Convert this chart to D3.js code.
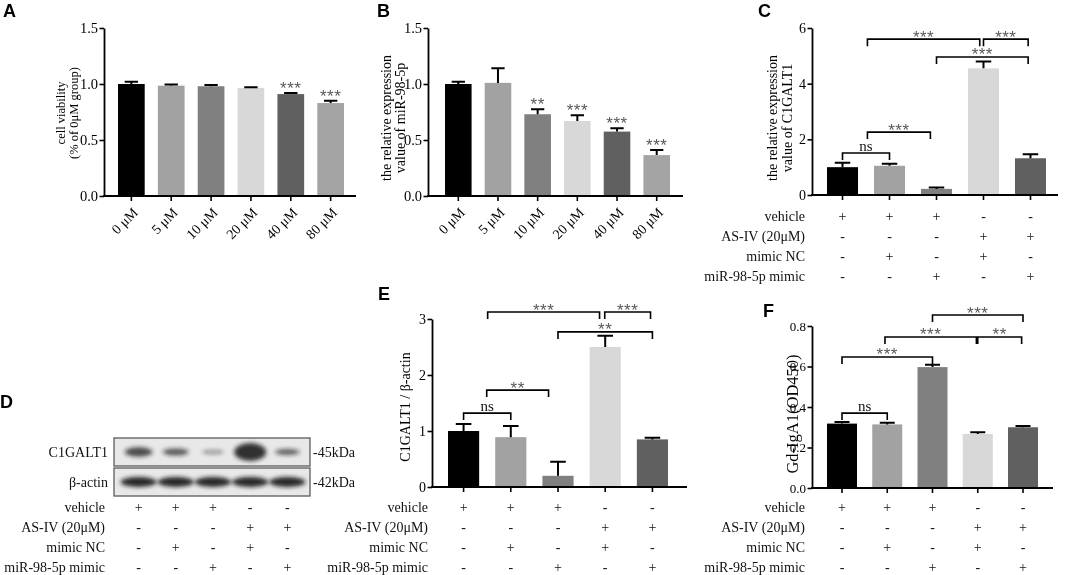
<!DOCTYPE html>
<html><head><meta charset="utf-8">
<script src="https://cdn.jsdelivr.net/npm/d3@7"></script>
<style>
body{margin:0;background:#fff}
svg{display:block;will-change:transform;-webkit-font-smoothing:antialiased}
svg text{font-family:"Liberation Serif","Times New Roman",Times,serif}
svg text.lbl{font-family:"Liberation Sans",Arial,Helvetica,sans-serif;font-weight:bold}
svg text.star{font-family:"Liberation Sans",Arial,Helvetica,sans-serif;letter-spacing:0.5px}
</style></head><body>
<svg id="fig" width="1065" height="575"></svg>
<script>
// ---------------- data ----------------
const doseLabels = ["0 μM","5 μM","10 μM","20 μM","40 μM","80 μM"];
const viabilityMean = [1.00, 0.985, 0.98, 0.965, 0.91, 0.83];
const viabilitySEM  = [0.02, 0.01, 0.01, 0.006, 0.01, 0.02];
const viabilitySig  = ["","","","","***","***"];

const mirMean = [1.00, 1.01, 0.73, 0.67, 0.575, 0.365];
const mirSEM  = [0.02, 0.13, 0.045, 0.05, 0.03, 0.045];
const mirSig  = ["","","**","***","***","***"];

const groupRowLabels = ["vehicle","AS-IV (20μM)","mimic NC","miR-98-5p mimic"];
const groupDesign = [
  ["+","+","+","-","-"],
  ["-","-","-","+","+"],
  ["-","+","-","+","-"],
  ["-","-","+","-","+"]
];

const c1mrnaMean = [1.00, 1.05, 0.22, 4.55, 1.32];
const c1mrnaSEM  = [0.16, 0.07, 0.05, 0.25, 0.14];
const c1mrnaComparisons = [
  {pair:[0,1], level:1.51, label:"ns"},
  {pair:[1,2], level:2.26, label:"***"},
  {pair:[1,3], level:5.60, label:"***"},
  {pair:[3,4], level:5.60, label:"***"},
  {pair:[2,4], level:4.96, label:"***"}
];

const c1protMean = [1.00, 0.89, 0.20, 2.50, 0.85];
const c1protSEM  = [0.125, 0.20, 0.25, 0.20, 0.03];
const c1protComparisons = [
  {pair:[0,1], level:1.32, label:"ns"},
  {pair:[1,2], level:1.73, label:"**"},
  {pair:[1,3], level:3.125, label:"***"},
  {pair:[3,4], level:3.125, label:"***"},
  {pair:[2,4], level:2.77, label:"**"}
];

const gdIgaMean = [0.318, 0.314, 0.597, 0.267, 0.300];
const gdIgaSEM  = [0.008, 0.008, 0.012, 0.008, 0.006];
const gdIgaComparisons = [
  {pair:[0,1], level:0.37, label:"ns"},
  {pair:[0,2], level:0.647, label:"***"},
  {pair:[1,3], level:0.746, label:"***"},
  {pair:[3,4], level:0.746, label:"**"},
  {pair:[2,4], level:0.854, label:"***"}
];

const blotRows = ["C1GALT1","β-actin"];
const blotMarkers = ["-45kDa","-42kDa"];
const blotC1GALT1 = [0.80, 0.70, 0.35, 1.00, 0.65];
const blotActin   = [1.00, 1.00, 1.00, 1.00, 1.00];

// ---------------- styles ----------------
const dosePalette = ["#000000","#a2a2a2","#808080","#d8d8d8","#606060","#a4a4a4"];
const groupPalette = ["#000000","#a2a2a2","#808080","#d8d8d8","#606060"];
const STAR = "#595959";

const svg = d3.select("#fig");

function letter(t, x, y){
  svg.append("text").attr("class","lbl").attr("x",x).attr("y",y).text(t)
    .attr("font-size",18).attr("fill","#000");
}

function drawTable(right, rowsY, cx){
  const g = svg.append("g").attr("font-size",14).attr("fill","#111");
  groupRowLabels.forEach((lab, r) => {
    g.append("text").attr("x",right).attr("y",rowsY[r]).attr("dy","0.35em")
      .attr("text-anchor","end").text(lab);
    g.selectAll(null).data(groupDesign[r]).join("text")
      .attr("x",(d,i)=>cx(i)).attr("y",rowsY[r]).attr("dy","0.35em")
      .attr("text-anchor","middle").text(d=>d);
  });
}

function drawPanel(cfg){
  const g = svg.append("g");
  const n = cfg.values.length;
  const x = d3.scaleBand().domain(d3.range(n)).range(cfg.bandRange).paddingInner(cfg.pad).paddingOuter(0);
  const y = d3.scaleLinear().domain(cfg.yDomain).range([cfg.y0, cfg.y1]);
  const cx = i => x(i) + x.bandwidth()/2;
  const pos = d3.scaleLinear().domain([0, n-1]).range([cx(0), cx(n-1)]);

  g.selectAll("rect").data(cfg.values).join("rect")
    .attr("x",(d,i)=>x(i)).attr("width",x.bandwidth())
    .attr("y",d=>y(d)).attr("height",d=>y(0)-y(d))
    .attr("fill",(d,i)=>cfg.colors[i]);

  const capW = x.bandwidth()*0.5;
  g.selectAll("path.err").data(cfg.values).join("path").attr("class","err")
    .attr("d",(d,i)=>{
      const top = y(d + cfg.errs[i]);
      return `M${cx(i)},${y(d)}V${top}M${cx(i)-capW/2},${top}H${cx(i)+capW/2}`;
    })
    .attr("stroke","#000").attr("stroke-width",2).attr("fill","none");

  const ya = g.append("g").attr("transform",`translate(${cfg.x0},0)`)
    .call(d3.axisLeft(y).tickValues(cfg.ticks).tickFormat(d3.format(cfg.fmt))
      .tickSize(4.5).tickSizeOuter(0).tickPadding(1.5));
  ya.select(".domain").attr("stroke-width",1.8);
  ya.selectAll(".tick line").attr("stroke-width",1.6);
  ya.selectAll(".tick text").attr("font-size",cfg.tickFont).attr("fill","#000");

  g.append("line").attr("x1",cfg.x0-0.9).attr("x2",cfg.xEnd).attr("y1",y(0)).attr("y2",y(0))
    .attr("stroke","#000").attr("stroke-width",1.8);
  const xa = g.append("g").attr("transform",`translate(0,${y(0)})`)
    .call(d3.axisBottom(x).tickSize(5).tickFormat(""));
  xa.select(".domain").remove();
  xa.selectAll(".tick line").attr("stroke-width",1.6);

  if (cfg.cats){
    g.selectAll("text.cat").data(cfg.cats).join("text").attr("class","cat")
      .attr("transform",(d,i)=>`translate(${cx(i)+4},${y(0)+14}) rotate(-45)`)
      .attr("text-anchor","end").attr("dy","0.35em")
      .attr("font-size",14).attr("fill","#000")
      .text(d=>d);
  }

  if (cfg.sig){
    g.selectAll("text.sig").data(cfg.sig).join("text").attr("class","sig star")
      .attr("x",(d,i)=>cx(i)).attr("y",(d,i)=>y(cfg.values[i]+cfg.errs[i]) + 1)
      .attr("text-anchor","middle").attr("font-size",17)
      .attr("fill",STAR).text(d=>d);
  }

  (cfg.comparisons||[]).forEach((c, k) => {
    const sh = (cfg.shifts && cfg.shifts[k]) || [0,0];
    const x1 = pos(c.pair[0] + sh[0]), x2 = pos(c.pair[1] + sh[1]);
    const yy = y(c.level);
    g.append("path").attr("d",`M${x1},${yy+7}V${yy}H${x2}V${yy+7}`)
      .attr("fill","none").attr("stroke","#000").attr("stroke-width",1.6);
    const ns = c.label === "ns";
    g.append("text").attr("class", ns ? null : "star")
      .attr("x",(x1+x2)/2).attr("y", ns ? yy-2 : yy+3.5)
      .attr("text-anchor","middle").attr("font-size",ns ? 15 : 17)
      .attr("fill", ns ? "#111" : STAR).text(c.label);
  });

  cfg.title.forEach((t, k) => {
    g.append("text").attr("transform",`translate(${cfg.titleX[k]},${cfg.titleY}) rotate(-90)`)
      .attr("text-anchor","middle").attr("dy","0.35em")
      .attr("font-size",cfg.titleFont).attr("fill","#000").text(t);
  });

  if (cfg.tableRows) drawTable(cfg.tableRight, cfg.tableRows, cx);
}

// ---------------- panels ----------------
drawPanel({values:viabilityMean, errs:viabilitySEM, sig:viabilitySig, cats:doseLabels, colors:dosePalette,
  x0:104, xEnd:356, bandRange:[118,344], pad:0.33, y0:196, y1:28, yDomain:[0,1.5],
  ticks:[0,0.5,1,1.5], fmt:".1f", tickFont:14.5,
  title:["cell viability","(% of 0μM group)"], titleX:[61,73.5], titleY:113, titleFont:12.5});
letter("A",3,17);

drawPanel({values:mirMean, errs:mirSEM, sig:mirSig, cats:doseLabels, colors:dosePalette,
  x0:428, xEnd:683, bandRange:[445,670], pad:0.33, y0:196, y1:28, yDomain:[0,1.5],
  ticks:[0,0.5,1,1.5], fmt:".1f", tickFont:14.5,
  title:["the relative expression","value of miR-98-5p"], titleX:[386,400.5], titleY:118, titleFont:14});
letter("B",377,17);

drawPanel({values:c1mrnaMean, errs:c1mrnaSEM, colors:groupPalette, comparisons:c1mrnaComparisons,
  shifts:[[0,0],[-0.47,-0.13],[-0.47,-0.08],[0,-0.05],[0,-0.05]],
  x0:812, xEnd:1058, bandRange:[827,1046], pad:0.34, y0:195, y1:28, yDomain:[0,6],
  ticks:[0,2,4,6], fmt:"d", tickFont:14,
  title:["the relative expression","value of C1GALT1"], titleX:[772,787], titleY:118, titleFont:14,
  tableRight:805, tableRows:[216,236,256,276]});
letter("C",758,17);

drawPanel({values:c1protMean, errs:c1protSEM, colors:groupPalette, comparisons:c1protComparisons,
  shifts:[[0,0],[-0.51,-0.2],[-0.49,-0.12],[-0.01,-0.04],[0,0]],
  x0:432, xEnd:687, bandRange:[448,668], pad:0.34, y0:487, y1:319, yDomain:[0,3],
  ticks:[0,1,2,3], fmt:"d", tickFont:14,
  title:["C1GALT1 / β-actin"], titleX:[405], titleY:407, titleFont:14,
  tableRight:428, tableRows:[507,527,547,567]});
letter("E",378,300);

drawPanel({values:gdIgaMean, errs:gdIgaSEM, colors:groupPalette, comparisons:gdIgaComparisons,
  shifts:[[0,0],[0,0],[-0.05,-0.03],[0,-0.03],[0,0]],
  x0:812, xEnd:1053, bandRange:[827,1038], pad:0.337, y0:488, y1:326, yDomain:[0,0.8],
  ticks:[0,0.2,0.4,0.6,0.8], fmt:".1f", tickFont:13,
  title:["Gd-IgA1(OD450)"], titleX:[792], titleY:414, titleFont:16.5,
  tableRight:805, tableRows:[507,527,547,567]});
letter("F",763,317);

// ---------------- panel D: western blot ----------------
(function(){
  const lanes = d3.scaleBand().domain(d3.range(5)).range([120,306]);
  const lc = i => lanes(i) + lanes.bandwidth()/2;
  const defs = svg.append("defs");
  defs.append("filter").attr("id","blur").attr("x","-50%").attr("y","-100%").attr("width","200%").attr("height","300%")
    .append("feGaussianBlur").attr("stdDeviation",2);
  const boxes = [{y:438,h:28,vals:blotC1GALT1},{y:468,h:28,vals:blotActin}];
  const ry = d3.scalePow().exponent(4).domain([0,1]).range([1.6,9]);
  const op = d3.scaleLinear().domain([0,1]).range([0.3,0.88]);
  boxes.forEach((b, r) => {
    svg.append("rect").attr("x",114).attr("y",b.y).attr("width",196).attr("height",b.h)
      .attr("fill","#e8e8e8").attr("stroke","#666").attr("stroke-width",1.4);
    const gb = svg.append("g").attr("filter","url(#blur)");
    gb.selectAll("ellipse").data(b.vals).join("ellipse")
      .attr("cx",(d,i)=>lc(i)).attr("cy",b.y+b.h/2)
      .attr("rx", r===0 ? (d=> 10 + 6*d*d) : 18)
      .attr("ry", r===0 ? (d=>ry(d)) : 5)
      .attr("fill","#1a1a1a").attr("fill-opacity", r===0 ? (d=>op(d)) : 0.92);
    svg.append("text").attr("x",108).attr("y",b.y+b.h/2).attr("dy","0.35em").attr("text-anchor","end")
      .attr("font-size",14).attr("fill","#111").text(blotRows[r]);
    svg.append("text").attr("x",313).attr("y",b.y+b.h/2).attr("dy","0.35em")
      .attr("font-size",14).attr("fill","#111").text(blotMarkers[r]);
  });
  drawTable(105,[507,527,547,567],lc);
})();
letter("D",0,408);
</script>
</body></html>
